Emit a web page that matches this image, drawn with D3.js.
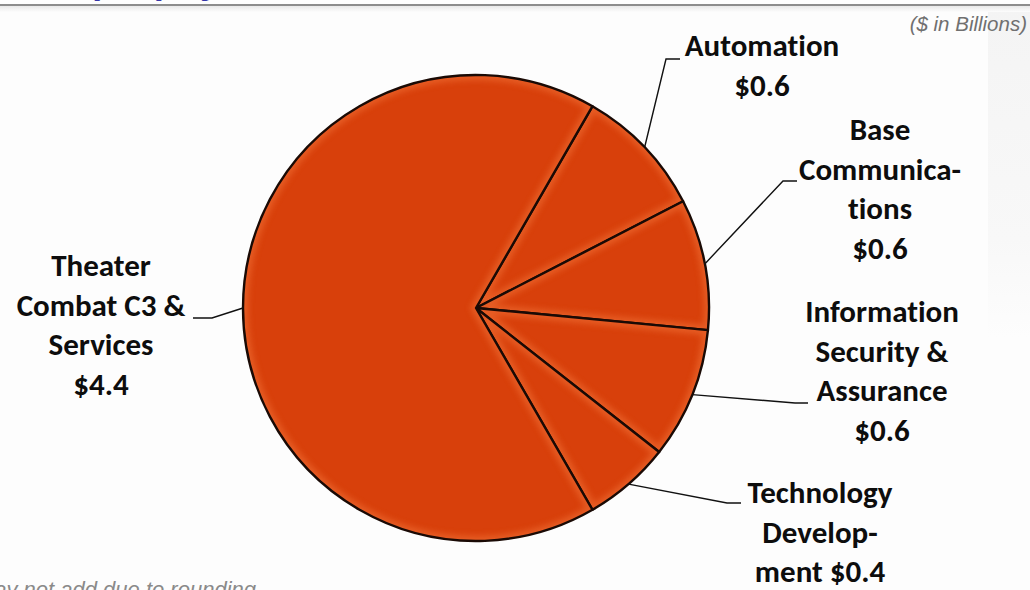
<!DOCTYPE html>
<html>
<head>
<meta charset="utf-8">
<script src="https://cdn.jsdelivr.net/npm/d3@7"></script>
<style>
  html, body { margin: 0; padding: 0; background: #fdfdfd; }
  svg { display: block; }
</style>
</head>
<body>
<svg id="chart" width="1030" height="590"></svg>
<script>
// C3 spending by category ($ in billions)
const categories = [
  "Automation",
  "Base Communications",
  "Information Security & Assurance",
  "Technology Development",
  "Theater Combat C3 & Services"
];
const values = [0.6, 0.6, 0.6, 0.4, 4.4];
// label text, broken into lines; {v} is replaced with the formatted value
const labelLines = [
  ["Automation", "{v}"],
  ["Base", "Communica-", "tions", "{v}"],
  ["Information", "Security &", "Assurance", "{v}"],
  ["Technology", "Develop-", "ment {v}"],
  ["Theater", "Combat C3 &", "Services", "{v}"]
];
const unitNote = "($ in Billions)";
const footNote = "Numbers may not add due to rounding";
const titleText = "(C3I) by Mission Area";

// ---- layout ----
const W = 1030, H = 590;
const cx = 476, cy = 308, R = 233;
const lineGap = 39.5;
// label block: centre x, first baseline; leader: elbow point and end x
const layout = [
  { x: 762, y: 56,  elbow: [666, 59],  end: 680 },
  { x: 880, y: 140, elbow: [783, 181], end: 797 },
  { x: 882, y: 322, elbow: [795, 403], end: 808 },
  { x: 820, y: 503, elbow: [727, 503], end: 741 },
  { x: 101, y: 276, elbow: [212, 318], end: 193 }
];

const fmt = v => "$" + d3.format(".1f")(v);
const svg = d3.select("#chart");
const defs = svg.append("defs");

// soft panel at the right edge
const pg = defs.append("linearGradient").attr("id", "panelGrad")
  .attr("x1", 0).attr("y1", 0).attr("x2", 0).attr("y2", 1);
pg.append("stop").attr("offset", "0%").attr("stop-color", "#f4f4f4");
pg.append("stop").attr("offset", "70%").attr("stop-color", "#f8f8f8");
pg.append("stop").attr("offset", "100%").attr("stop-color", "#fdfdfd");
svg.append("rect").attr("x", 988).attr("y", 8).attr("width", 42).attr("height", 330)
  .attr("fill", "url(#panelGrad)");

// header: clipped title and rule
svg.append("text").attr("x", 88).attr("y", -7)
  .attr("font-family", "Liberation Sans, Arial, sans-serif")
  .attr("font-weight", 700).attr("font-size", 36)
  .attr("fill", "#3535a8").text(titleText);
const hg = defs.append("linearGradient").attr("id", "ruleShade")
  .attr("x1", 0).attr("y1", 0).attr("x2", 0).attr("y2", 1);
hg.append("stop").attr("offset", "0%").attr("stop-color", "#e8e8e8");
hg.append("stop").attr("offset", "100%").attr("stop-color", "#fdfdfd");
svg.append("rect").attr("x", 0).attr("y", 6).attr("width", W).attr("height", 6)
  .attr("fill", "url(#ruleShade)");
svg.append("rect").attr("x", 0).attr("y", 4).attr("width", W).attr("height", 2)
  .attr("fill", "#8c8c8c");

svg.append("text").attr("x", 1027).attr("y", 31)
  .attr("text-anchor", "end")
  .attr("font-family", "Liberation Sans, Arial, sans-serif")
  .attr("font-style", "italic").attr("font-size", 20.5)
  .attr("fill", "#707070").text(unitNote);

svg.append("text").attr("x", 256).attr("y", 597)
  .attr("text-anchor", "end")
  .attr("font-family", "Liberation Sans, Arial, sans-serif")
  .attr("font-style", "italic").attr("font-size", 22)
  .attr("fill", "#8a8a8a").text(footNote);

// ---- pie ----
const pie = d3.pie().sort(null).value(d => d)
  .startAngle(Math.PI / 6).endAngle(Math.PI / 6 + 2 * Math.PI);
const arcs = pie(values);
const arc = d3.arc().innerRadius(0).outerRadius(R);

defs.append("filter").attr("id", "soft")
  .attr("x", "-20%").attr("y", "-20%").attr("width", "140%").attr("height", "140%")
  .append("feGaussianBlur").attr("stdDeviation", 3);

const g = svg.append("g").attr("transform", `translate(${cx},${cy})`);

arcs.forEach((a, i) => {
  defs.append("clipPath").attr("id", "clip" + i)
    .append("path").attr("d", arc(a));
});

const slice = g.selectAll("g.slice").data(arcs).join("g").attr("class", "slice");
slice.append("path").attr("d", arc).attr("fill", "#d8400b");
// bevel highlight along each slice edge
slice.append("g").attr("clip-path", (d, i) => `url(#clip${i})`)
  .append("path").attr("d", arc)
  .attr("fill", "none").attr("stroke", "#f3743a").attr("stroke-width", 10)
  .attr("opacity", 0.55).attr("filter", "url(#soft)");
slice.append("path").attr("d", arc)
  .attr("fill", "none").attr("stroke", "#1a0a05").attr("stroke-width", 2.4)
  .attr("stroke-linejoin", "round");

// ---- leaders and labels ----
arcs.forEach((a, i) => {
  const mid = (a.startAngle + a.endAngle) / 2;
  const p0 = [cx + R * Math.sin(mid), cy - R * Math.cos(mid)];
  const L = layout[i];
  svg.append("polyline")
    .attr("points", [p0, L.elbow, [L.end, L.elbow[1]]].map(p => p.join(",")).join(" "))
    .attr("fill", "none").attr("stroke", "#111").attr("stroke-width", 1.4);

  const t = svg.append("text")
    .attr("text-anchor", "middle")
    .attr("font-family", "Carlito, Lato, sans-serif")
    .attr("font-weight", 700).attr("font-size", 31)
    .style("font-variant-ligatures", "none")
    .attr("fill", "#0d0d0d");
  labelLines[i].forEach((ln, j) => {
    t.append("tspan").attr("x", L.x).attr("y", L.y + j * lineGap)
      .text(ln.replace("{v}", fmt(values[i])));
  });
});
</script>
</body>
</html>
